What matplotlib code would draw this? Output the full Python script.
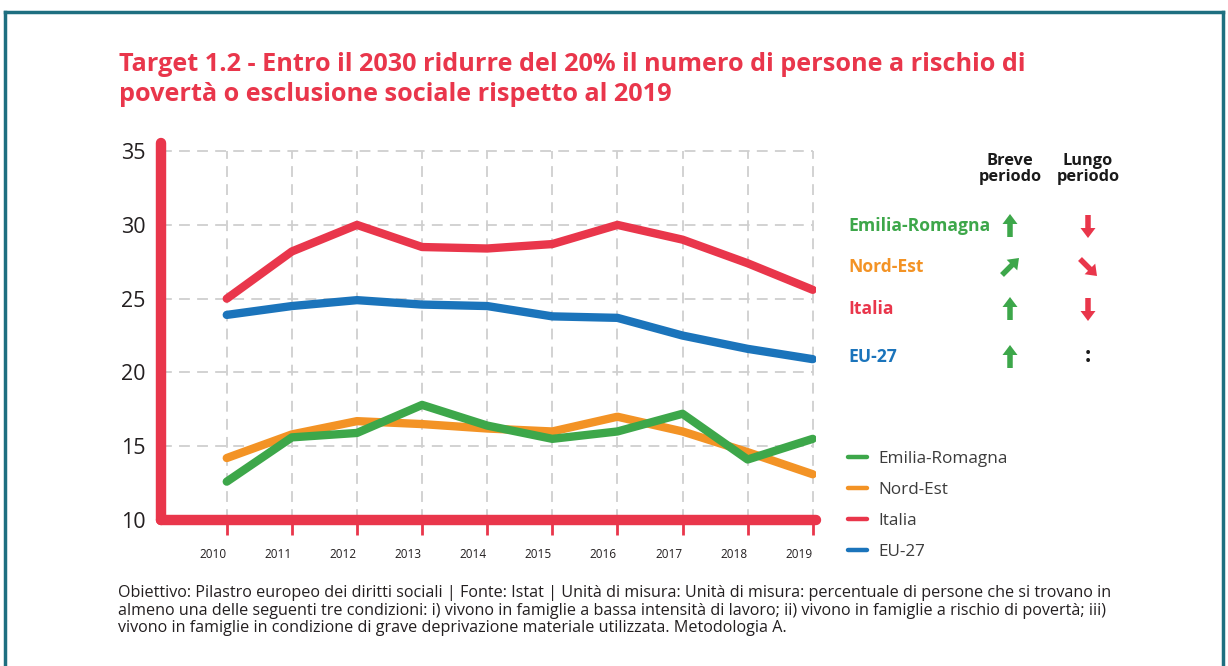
import matplotlib
matplotlib.use("Agg")
import matplotlib.pyplot as plt
from matplotlib.lines import Line2D
from matplotlib.patches import FancyArrow
from matplotlib.transforms import ScaledTranslation

years = [2010, 2011, 2012, 2013, 2014, 2015, 2016, 2017, 2018, 2019]
italia = [25.0, 28.2, 30.0, 28.5, 28.4, 28.7, 30.0, 29.0, 27.4, 25.6]
eu27 = [23.9, 24.5, 24.9, 24.6, 24.5, 23.8, 23.7, 22.5, 21.6, 20.9]
nord_est = [14.2, 15.8, 16.7, 16.5, 16.2, 16.0, 17.0, 16.0, 14.6, 13.1]
emilia = [12.6, 15.6, 15.9, 17.8, 16.4, 15.5, 16.0, 17.2, 14.1, 15.5]
yticks = [10, 15, 20, 25, 30, 35]

names = ["Emilia-Romagna", "Nord-Est", "Italia", "EU-27"]
breve = ["up", "ne", "up", "up"]
lungo = ["down", "se", "down", "na"]

GREEN = "#3da74a"
ORANGE = "#f39325"
RED = "#e9364b"
BLUE = "#1b74bb"
GRID = "#cfcfcf"
TEAL = "#1e6f80"
colors = [GREEN, ORANGE, RED, BLUE]

plt.rcParams["font.family"] = ["Open Sans", "DejaVu Sans"]

fig = plt.figure(figsize=(12.28, 6.66), dpi=100)

# overlay in pixel coordinates for the frame and the arrow table
deco = fig.add_axes([0, 0, 1, 1])
deco.set_xlim(0, 1228)
deco.set_ylim(666, 0)
deco.axis("off")
deco.plot([5, 1223], [12, 12], color=TEAL, lw=2.5)
deco.plot([5, 5], [12, 666], color=TEAL, lw=2.5)
deco.plot([1223, 1223], [12, 666], color=TEAL, lw=2.5)

ax = fig.add_axes([161 / 1228, (666 - 520) / 666, (816 - 161) / 1228, (520 - 143) / 666])
ax.set_xlim(2008.99, 2019.05)
ax.set_ylim(10, 35.55)
for s in ax.spines.values():
    s.set_visible(False)

# dashed grid
ax.hlines(yticks[1:], 2008.99, 2019, colors=GRID, lw=1.3, linestyles=(0, (6, 4)), zorder=1)
ax.vlines(years, 10, 35, colors=GRID, lw=1.3, linestyles=(0, (6, 4)), zorder=1)

# thick red axes with round caps
ax.axhline(10, color=RED, lw=7.5, solid_capstyle="round", clip_on=False, zorder=5)
ax.axvline(2008.99, color=RED, lw=7.5, solid_capstyle="round", clip_on=False, zorder=5)

ax.plot(years, italia, color=RED, lw=6, solid_capstyle="round", solid_joinstyle="round", zorder=3)
ax.plot(years, eu27, color=BLUE, lw=6, solid_capstyle="round", solid_joinstyle="round", zorder=3)
ax.plot(years, nord_est, color=ORANGE, lw=6, solid_capstyle="round", solid_joinstyle="round", zorder=3)
ax.plot(years, emilia, color=GREEN, lw=6, solid_capstyle="round", solid_joinstyle="round", zorder=4)

ax.set_xticks(years)
ax.set_xticklabels([str(y) for y in years])
ax.tick_params(axis="x", length=11, width=2, color=RED, pad=9, labelsize=8.5, labelcolor="#231f20")
for lab in ax.get_xticklabels():
    lab.set_transform(lab.get_transform() + ScaledTranslation(-0.14, 0, fig.dpi_scale_trans))
ax.set_yticks(yticks)
ax.set_yticklabels([str(v) for v in yticks])
ax.tick_params(axis="y", length=0, pad=11, labelsize=15.5, labelcolor="#231f20")

# legend
handles = [Line2D([0], [0], color=c, lw=3.2, solid_capstyle="round") for c in colors]
fig.legend(handles, names, loc="upper left", bbox_to_anchor=(841 / 1228, 1 - 444 / 666),
           frameon=False, fontsize=12.3, handlelength=1.1, handletextpad=0.7,
           labelspacing=0.88, labelcolor="#3c3c3c", borderaxespad=0)

# title
fig.text(119 / 1228, 1 - 52 / 666,
         "Target 1.2 - Entro il 2030 ridurre del 20% il numero di persone a rischio di\n"
         "povertà o esclusione sociale rispetto al 2019",
         color=RED, fontsize=18.2, fontweight="bold", va="top", ha="left", linespacing=1.25)

# trend table
deco.text(1010, 169, "Breve\nperiodo", ha="center", va="center", fontsize=11.8,
          fontweight="bold", color="#1a1a1a", linespacing=0.95)
deco.text(1088, 169, "Lungo\nperiodo", ha="center", va="center", fontsize=11.8,
          fontweight="bold", color="#1a1a1a", linespacing=0.95)
rows_y = [226, 267, 309, 357]


def arrow(x, y, kind, col):
    kw = dict(width=5.5, head_width=15, head_length=10, length_includes_head=True,
              color=col, lw=0)
    if kind == "up":
        deco.add_patch(FancyArrow(x, y + 11, 0, -23, **kw))
    elif kind == "down":
        deco.add_patch(FancyArrow(x, y - 11, 0, 23, **kw))
    elif kind == "ne":
        deco.add_patch(FancyArrow(x - 8, y + 8, 17, -17, **kw))
    elif kind == "se":
        deco.add_patch(FancyArrow(x - 8, y - 8, 17, 17, **kw))
    else:
        deco.text(x, y, ":", ha="center", va="center", fontsize=16, fontweight="bold",
                  color="#1a1a1a")


for name, col, b, l, y in zip(names, colors, breve, lungo, rows_y):
    deco.text(848, y, name, ha="left", va="center", fontsize=12.6, fontweight="bold", color=col)
    arrow(1010, y, b, GREEN)
    arrow(1088, y, l, RED)

fig.text(118 / 1228, 1 - 585 / 666,
         "Obiettivo: Pilastro europeo dei diritti sociali | Fonte: Istat | Unità di misura: Unità di misura: "
         "percentuale di persone che si trovano in\n"
         "almeno una delle seguenti tre condizioni: i) vivono in famiglie a bassa intensità di lavoro; "
         "ii) vivono in famiglie a rischio di povertà; iii)\n"
         "vivono in famiglie in condizione di grave deprivazione materiale utilizzata. Metodologia A.",
         fontsize=11.6, color="#231f20", va="top", ha="left", linespacing=1.13)

fig.savefig("out.png", dpi=100)
